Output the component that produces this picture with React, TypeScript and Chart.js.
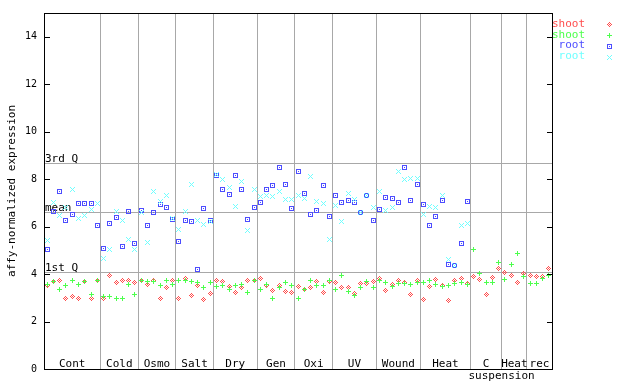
import React, { useEffect, useRef } from "react";
import { Chart, registerables } from "chart.js";

Chart.register(...registerables);

// ---- data ----
const categories = ["Cont", "Cold", "Osmo", "Salt", "Dry", "Gen", "Oxi", "UV", "Wound", "Heat", "C\nsuspension", "Heat", "rec"];
const categorySizes = [9, 6, 6, 6, 7, 6, 6, 7, 7, 8, 5, 4, 4];

const shootDiamond = [
  3.5, 3.67, 3.71, 2.99, 3.04, 2.95, 3.67, 2.99, 3.75,
  2.99, 3.95, 3.65, 3.75, 3.75, 3.65,
  3.72, 3.54, 3.72, 2.98, 3.44, 3.72,
  2.98, 3.8, 3.11, 3.52, 2.91, 3.19,
  3.71, 3.67, 3.46, 3.23, 3.42, 3.75, 3.71,
  3.8, 3.5, 3.32, 3.5, 3.28, 3.23,
  3.46, 3.37, 3.42, 3.7, 3.23, 3.67,
  3.65, 3.42, 3.44, 3.19, 3.61, 3.61, 3.7,
  3.82, 3.32, 3.57, 3.75, 3.65, 3.15, 3.71,
  2.94, 3.49, 3.78, 3.53, 2.9, 3.71, 3.8, 3.61,
  3.91, 3.78, 3.15, 3.84, 4.22,
  4.08, 3.95, 3.65, 4.03,
  3.95, 3.91, 3.91, 4.22,
];
const shootPlus = [
  3.58, 3.67, 3.37, 3.5, 3.75, 3.58, 3.7, 3.16, 3.75,
  3.04, 3.04, 2.95, 2.99, 3.58, 3.12,
  3.74, 3.67, 3.67, 3.53, 3.72, 3.54,
  3.71, 3.74, 3.7, 3.63, 3.42, 3.63,
  3.47, 3.53, 3.35, 3.53, 3.58, 3.23, 3.75,
  3.36, 3.58, 2.98, 3.42, 3.65, 3.5,
  2.98, 3.33, 3.74, 3.53, 3.53, 3.74,
  3.36, 3.96, 3.28, 3.08, 3.42, 3.7, 3.42,
  3.74, 3.65, 3.46, 3.61, 3.61, 3.57, 3.65,
  3.65, 3.74, 3.57, 3.46, 3.53, 3.61, 3.65, 3.57,
  5.05, 4.03, 3.65, 3.65, 4.5,
  3.78, 4.41, 4.88, 3.91,
  3.61, 3.61, 3.82, 3.95,
];
const rootSquare = [
  5.05, 6.63, 7.49, 6.27, 6.52, 6.96, 6.99, 6.96, 6.06,
  5.09, 6.11, 6.4, 5.17, 6.65, 5.3,
  6.66, 6.03, 6.61, 6.92, 6.82, 6.28,
  5.38, 6.27, 6.23, 4.2, 6.78, 6.27,
  8.14, 7.58, 7.37, 8.17, 7.58, 6.31, 6.82,
  7.03, 7.58, 7.75, 8.5, 7.79, 6.78,
  8.34, 7.41, 6.52, 6.69, 7.75, 6.44,
  7.32, 7.03, 7.11, 7.03, 6.61, 7.32, 6.27,
  6.73, 7.24, 7.2, 7.03, 8.5, 7.11, 7.79,
  6.94, 6.06, 6.44, 7.11, 4.41, 4.37, 5.3, 7.07,
];
const rootCross = [
  5.4, 7.03, 6.48, 6.79, 7.58, 6.35, 6.48, 6.73, 6.96,
  4.67, 5.05, 6.65, 6.27, 5.47, 5.05,
  6.6, 5.33, 7.5, 7.06, 7.3, 6.35,
  5.86, 6.63, 7.79, 6.27, 6.1, 6.2,
  8.21, 8.0, 7.66, 6.86, 7.91, 5.85, 7.58,
  7.28, 7.32, 7.28, 7.49, 7.15, 7.15,
  7.32, 7.2, 8.12, 7.07, 6.99, 5.47,
  6.9, 6.23, 7.41, 7.13, 6.61, 7.32, 6.82,
  7.49, 6.69, 6.82, 8.34, 8.0, 8.04, 8.04,
  6.52, 6.86, 6.82, 7.32, 4.62, 4.37, 6.06, 6.14,
];

const quartileLabels = ["3rd Q", "mean", "1st Q"];
const quartileValues = [8.67, 6.62, 4.08];
const yTicks = [0, 2, 4, 6, 8, 10, 12, 14];
const legendLabels = ["shoot", "shoot", "root", "root"];
const seriesColors = ["#ff4d4d", "#4dff4d", "#4d4dff", "#70ffff"];
const markerKinds = ["diamond", "plus", "square", "cross"];

const FONT = "'DejaVu Sans Mono', monospace";

function makeMarker(kind: string, color: string): HTMLCanvasElement {
  const c = document.createElement("canvas");
  c.width = 5;
  c.height = 5;
  const g = c.getContext("2d")!;
  g.fillStyle = color;
  for (let dx = -2; dx <= 2; dx++) {
    for (let dy = -2; dy <= 2; dy++) {
      let on = false;
      const ax = Math.abs(dx), ay = Math.abs(dy);
      if (kind === "diamond") on = ax + ay <= 2 && (ax + ay) % 2 === 0;
      else if (kind === "plus") on = dx === 0 || dy === 0;
      else if (kind === "square") on = ax === 2 || ay === 2 || (dx === 0 && dy === 0);
      else on = ax === ay;
      if (on) g.fillRect(dx + 2, dy + 2, 1, 1);
    }
  }
  return c;
}

export default function App() {
  const ref = useRef<HTMLCanvasElement>(null);

  useEffect(() => {
    document.body.style.margin = "0";
    const canvas = ref.current!;
    const markers = markerKinds.map((k, i) => makeMarker(k, seriesColors[i]));
    const boundaries: number[] = [0];
    categorySizes.forEach((s) => boundaries.push(boundaries[boundaries.length - 1] + s));
    const total = boundaries[boundaries.length - 1];

    const series = [shootDiamond, shootPlus, rootSquare, rootCross];
    const datasets = series.map((vals, si) => ({
      label: legendLabels[si],
      data: vals.map((v, i) => ({ x: i + 0.5, y: v })),
      pointStyle: markers[si] as any,
      pointRadius: 3,
      pointHoverRadius: 3,
      showLine: false,
      order: 4 - si,
    }));

    const deco = {
      id: "deco",
      beforeDraw(chart: any) {
        chart.ctx.imageSmoothingEnabled = false;
      },
      beforeDatasetsDraw(chart: any) {
        const { ctx, chartArea: a, scales } = chart;
        ctx.save();
        ctx.strokeStyle = "#a8a8a8";
        ctx.lineWidth = 1;
        ctx.font = `11px ${FONT}`;
        ctx.fillStyle = "#000";
        ctx.textAlign = "left";
        ctx.textBaseline = "alphabetic";
        quartileValues.forEach((v, i) => {
          const y = Math.round(scales.y.getPixelForValue(v)) + 0.5;
          ctx.beginPath();
          ctx.moveTo(a.left, y);
          ctx.lineTo(a.right, y);
          ctx.stroke();
          ctx.fillText(quartileLabels[i], a.left + 1, y - 1.5);
        });
        ctx.restore();
      },
      afterDraw(chart: any) {
        const { ctx, chartArea: a, scales } = chart;
        ctx.save();
        ctx.imageSmoothingEnabled = false;
        // frame
        ctx.strokeStyle = "#000";
        ctx.lineWidth = 1;
        ctx.strokeRect(a.left + 0.5, a.top + 0.5, a.right - a.left, a.bottom - a.top);
        // inward tick marks on both sides
        ctx.beginPath();
        yTicks.forEach((t) => {
          const y = Math.round(scales.y.getPixelForValue(t)) + 0.5;
          ctx.moveTo(a.left, y);
          ctx.lineTo(a.left + 6, y);
          ctx.moveTo(a.right - 5, y);
          ctx.lineTo(a.right + 1, y);
        });
        ctx.stroke();
        // category labels
        ctx.fillStyle = "#000";
        ctx.font = `11px ${FONT}`;
        ctx.textBaseline = "alphabetic";
        categories.forEach((cat, i) => {
          const x0 = scales.x.getPixelForValue(boundaries[i]);
          const x1 = scales.x.getPixelForValue(boundaries[i + 1]);
          const lines = cat.split("\n");
          ctx.textAlign = "center";
          ctx.fillText(lines[0], (x0 + x1) / 2, a.bottom - 2);
          if (lines[1]) {
            ctx.textAlign = "left";
            ctx.fillText(lines[1], x0 - 2, a.bottom + 10);
          }
        });
        // y title
        ctx.save();
        ctx.translate(12, (a.top + a.bottom) / 2);
        ctx.rotate(-Math.PI / 2);
        ctx.textAlign = "center";
        ctx.textBaseline = "middle";
        ctx.fillText("affy-normalized expression", 0, 0);
        ctx.restore();
        // legend
        const legendY = [24, 35, 45.5, 56.5];
        ctx.textAlign = "right";
        ctx.textBaseline = "middle";
        legendLabels.forEach((lab, i) => {
          ctx.fillStyle = seriesColors[i];
          ctx.fillText(lab, 585, legendY[i]);
          ctx.drawImage(markers[i], 607, Math.round(legendY[i]) - 2);
        });
        ctx.restore();
      },
    };

    const chart = new Chart(canvas, {
      type: "scatter",
      data: { datasets: datasets as any },
      options: {
        animation: false,
        responsive: false,
        events: [],
        layout: { padding: { top: 13, right: 88, left: 0, bottom: 0 } },
        plugins: { legend: { display: false }, tooltip: { enabled: false } },
        scales: {
          x: {
            type: "linear",
            min: 0,
            max: total,
            ticks: { display: false },
            grid: { color: "#a8a8a8", lineWidth: 1, drawTicks: false },
            border: { display: false },
            afterBuildTicks: (s: any) => {
              s.ticks = boundaries.map((v) => ({ value: v }));
            },
            afterFit: (s: any) => {
              s.height = 15;
            },
          },
          y: {
            type: "linear",
            min: 0,
            max: 15,
            ticks: {
              color: "#000",
              font: { family: FONT, size: 10 },
              padding: 7,
            },
            grid: { display: false, drawTicks: false },
            border: { display: false },
            afterBuildTicks: (s: any) => {
              s.ticks = yTicks.map((v) => ({ value: v }));
            },
            afterFit: (s: any) => {
              s.width = 44;
            },
          },
        },
      },
      plugins: [deco],
    });
    return () => chart.destroy();
  }, []);

  return (
    <div style={{ position: "absolute", left: 0, top: 0, width: 640, height: 384, background: "#fff" }}>
      <canvas ref={ref} width={640} height={384} />
    </div>
  );
}
